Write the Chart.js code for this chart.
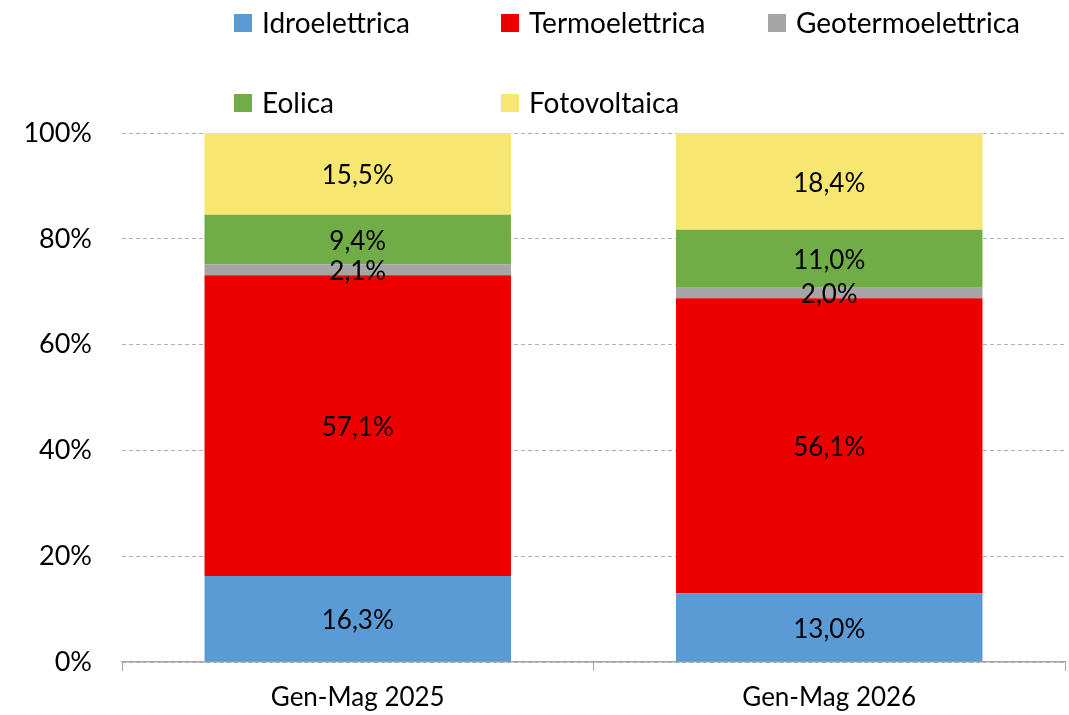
<!DOCTYPE html>
<html>
<head>
<meta charset="utf-8">
<script src="https://cdn.jsdelivr.net/npm/chart.js@4/dist/chart.umd.min.js"></script>
<style>
  html, body { margin: 0; padding: 0; background: #fff; }
  #wrap { width: 1069px; height: 715px; }
</style>
</head>
<body>
<div id="wrap"><canvas id="mixChart" width="1069" height="715"></canvas></div>
<script>
// data
const periods = [ 'Gen-Mag 2025', 'Gen-Mag 2026' ];
const sources = [ 'Idroelettrica', 'Termoelettrica', 'Geotermoelettrica', 'Eolica', 'Fotovoltaica' ];
const idro = [ 16.3, 13.0 ];
const termo = [ 57.1, 56.1 ];
const geo = [ 2.1, 2.0 ];
const eolica = [ 9.4, 11.0 ];
const foto = [ 15.5, 18.4 ];
const yTicks = [ 0, 20, 40, 60, 80, 100 ];

const colors = [ '#5B9BD5', '#EE0000', '#A5A5A5', '#70AD47', '#F7E770' ];
const series = [ idro, termo, geo, eolica, foto ];
const FONT = 'Lato, "Open Sans", sans-serif';

// 100% stacked: each column scaled to its total
const totals = periods.map(function (p, i) {
  return series.reduce(function (s, arr) { return s + arr[ i ]; }, 0);
});

const datasets = sources.map(function (name, k) {
  return {
    label: name,
    data: series[ k ].map(function (v, i) { return v / totals[ i ] * 100; }),
    raw: series[ k ],
    backgroundColor: colors[ k ],
    borderWidth: 0,
    barPercentage: 0.65,
    categoryPercentage: 1.0
  };
});

// value labels in the middle of each segment
const segmentLabels = {
  id: 'segmentLabels',
  afterDatasetsDraw(chart) {
    const ctx = chart.ctx;
    ctx.save();
    ctx.font = '26px ' + FONT;
    ctx.fillStyle = '#000';
    ctx.textAlign = 'center';
    ctx.textBaseline = 'middle';
    chart.data.datasets.forEach(function (ds, k) {
      chart.getDatasetMeta(k).data.forEach(function (bar, i) {
        const c = bar.getCenterPoint();
        ctx.fillText(ds.raw[ i ].toFixed(1).replace('.', ',') + '%', c.x, c.y + 2);
      });
    });
    ctx.restore();
  }
};

// legend in two rows, three columns, like the original
const gridLegend = {
  id: 'gridLegend',
  afterDraw(chart) {
    const ctx = chart.ctx;
    const colX = [ 234, 501, 768 ];
    const rowY = [ 14, 94 ];
    ctx.save();
    ctx.font = '28px ' + FONT;
    ctx.textAlign = 'left';
    ctx.textBaseline = 'alphabetic';
    sources.forEach(function (name, k) {
      const x = colX[ k % 3 ];
      const y = rowY[ Math.floor(k / 3) ];
      ctx.fillStyle = colors[ k ];
      ctx.fillRect(x, y, 18, 18);
      ctx.fillStyle = '#000';
      ctx.fillText(name, x + 28, y + 19);
    });
    ctx.restore();
  }
};

new Chart(document.getElementById('mixChart'), {
  type: 'bar',
  data: { labels: periods, datasets: datasets },
  plugins: [ segmentLabels, gridLegend ],
  options: {
    responsive: false,
    devicePixelRatio: 1,
    animation: false,
    layout: { padding: { top: 133, right: 4, left: 0, bottom: 0 } },
    plugins: {
      legend: { display: false },
      tooltip: { enabled: false }
    },
    scales: {
      x: {
        stacked: true,
        afterFit(scale) { scale.height = 53; },
        grid: {
          offset: true,
          drawOnChartArea: false,
          drawTicks: true,
          tickLength: 9,
          color: '#A6A6A6'
        },
        border: { display: true, color: '#A6A6A6', width: 1.5 },
        ticks: {
          color: '#000',
          padding: 11,
          font: { family: FONT, size: 26 }
        }
      },
      y: {
        stacked: true,
        min: 0,
        max: 100,
        afterFit(scale) { scale.width = 122; },
        afterBuildTicks(scale) {
          scale.ticks = yTicks.map(function (v) { return { value: v }; });
        },
        grid: {
          drawTicks: false,
          color: '#B0B0B0',
          lineWidth: 1
        },
        border: { display: false, dash: [ 4, 3 ] },
        ticks: {
          color: '#000',
          padding: 30,
          font: { family: FONT, size: 27 },
          callback: function (v) { return v + '%'; }
        }
      }
    }
  }
});
</script>
</body>
</html>
